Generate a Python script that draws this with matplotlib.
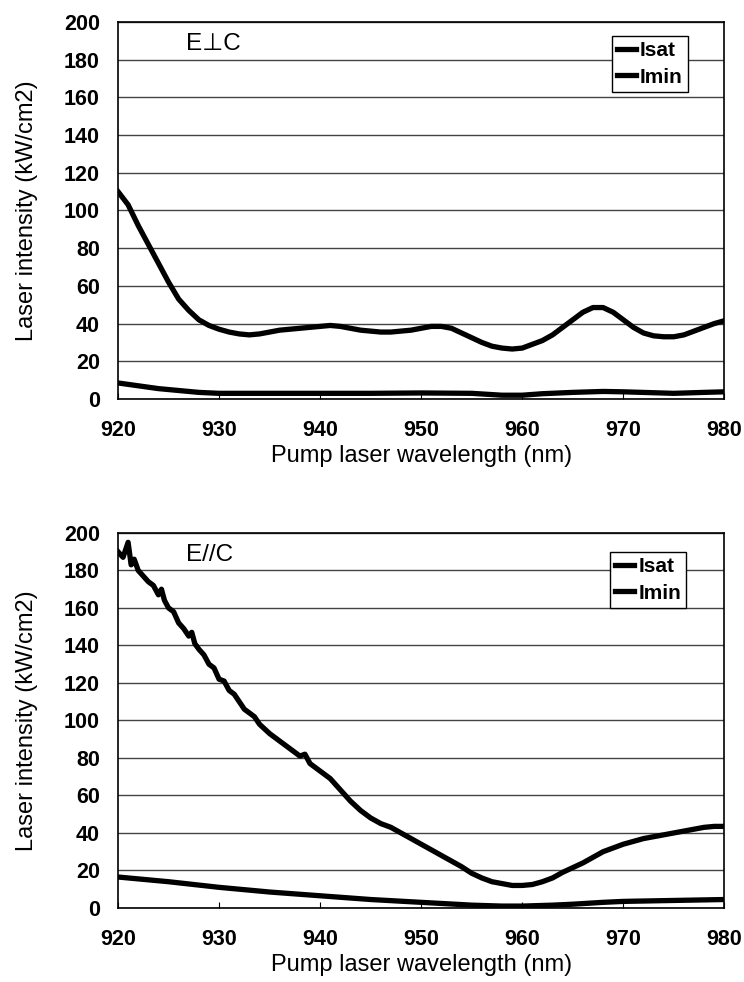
import matplotlib
matplotlib.use("Agg")
import matplotlib.pyplot as plt

plt.rcParams['font.family'] = ['Liberation Sans', 'DejaVu Sans']
plt.rcParams['font.weight'] = 'bold'

# ---- Top panel (E perpendicular C) ----
wl_top = [920, 921, 922, 923, 924, 925, 926, 927, 928, 929, 930, 931, 932, 933, 934, 935,
          936, 937, 938, 939, 940, 941, 942, 943, 944, 945, 946, 947, 948, 949, 950, 951,
          952, 953, 954, 955, 956, 957, 958, 959, 960, 961, 962, 963, 964, 965, 966, 967,
          968, 969, 970, 971, 972, 973, 974, 975, 976, 977, 978, 979, 980]
isat_top = [110, 103, 92, 82, 72, 62, 53, 47, 42, 39, 37, 35.5, 34.5, 34, 34.5, 35.5,
            36.5, 37, 37.5, 38, 38.5, 39, 38.5, 37.5, 36.5, 36, 35.5, 35.5, 36, 36.5, 37.5, 38.5,
            38.5, 37.5, 35, 32.5, 30, 28, 27, 26.5, 27, 29, 31, 34, 38, 42, 46, 48.5,
            48.5, 46, 42, 38, 35, 33.5, 33, 33, 34, 36, 38, 40, 41.5]
wl_top_min = [920, 922, 924, 926, 928, 930, 935, 940, 945, 950, 955, 958, 960, 962, 965,
              968, 970, 975, 978, 980]
imin_top = [8.5, 7, 5.5, 4.5, 3.5, 3, 3, 3, 3, 3.2, 3, 2, 2, 2.8, 3.5, 4, 3.8, 3, 3.5, 3.8]

# ---- Bottom panel (E parallel C) ----
wl_bot = [920, 920.5, 921, 921.3, 921.6, 922, 922.5, 923, 923.5, 924, 924.3, 924.6, 925, 925.5,
          926, 926.5, 927, 927.3, 927.6, 928, 928.5, 929, 929.5, 930, 930.5, 931, 931.5, 932,
          932.5, 933, 933.5, 934, 935, 936, 937, 938, 938.5, 939, 940, 941, 942, 943, 944,
          945, 946, 947, 948, 949, 950, 951, 952, 953, 954, 955, 956, 957, 958, 959, 960,
          961, 962, 963, 964, 965, 966, 967, 968, 969, 970, 971, 972, 973, 974, 975, 976,
          977, 978, 979, 980]
isat_bot = [190, 187, 195, 183, 186, 180, 177, 174, 172, 167, 170, 164, 160, 158,
            152, 149, 145, 147, 141, 138, 135, 130, 128, 122, 121, 116, 114, 110,
            106, 104, 102, 98, 93, 89, 85, 81, 82, 77, 73, 69, 63, 57, 52,
            48, 45, 43, 40, 37, 34, 31, 28, 25, 22, 18.5, 16, 14, 13, 12, 12,
            12.5, 14, 16, 19, 21.5, 24, 27, 30, 32, 34, 35.5, 37, 38, 39, 40, 41,
            42, 43, 43.5, 43.5]
wl_bot_min = [920, 925, 930, 935, 940, 945, 950, 955, 958, 960, 963, 965, 968, 970, 975, 980]
imin_bot = [16.5, 14, 11, 8.5, 6.5, 4.5, 3, 1.5, 1, 1, 1.5, 2, 3, 3.5, 4, 4.5]

x_ticks = [920, 930, 940, 950, 960, 970, 980]
y_ticks = [0, 20, 40, 60, 80, 100, 120, 140, 160, 180, 200]
series_names = ["Isat", "Imin"]
panel_labels = ["E\u22a5C", "E//C"]

fig = plt.figure(figsize=(7.44, 9.82), dpi=100)
ax1 = fig.add_axes([0.1586, 0.5937, 0.815, 0.384])
ax2 = fig.add_axes([0.1586, 0.0754, 0.815, 0.3819])

panels = [
    (ax1, wl_top, isat_top, wl_top_min, imin_top, panel_labels[0], (0.94, 0.962)),
    (ax2, wl_bot, isat_bot, wl_bot_min, imin_bot, panel_labels[1], (0.937, 0.949)),
]

for ax, wx, ys, wm, ym, lab, anchor in panels:
    ax.plot(wx, ys, color='black', lw=3.8, label=series_names[0])
    ax.plot(wm, ym, color='black', lw=3.8, label=series_names[1])
    ax.set_xlim(920, 980)
    ax.set_ylim(0, 200)
    ax.set_xticks(x_ticks)
    ax.set_yticks(y_ticks)
    ax.yaxis.grid(True, color='#444444', lw=1.0)
    ax.set_axisbelow(True)
    for s in ax.spines.values():
        s.set_color('black')
        s.set_linewidth(1.2)
    ax.tick_params(axis='x', direction='in', length=4, labelsize=15.5, pad=15)
    ax.tick_params(axis='y', direction='out', length=0, labelsize=15.5, pad=13)
    ax.set_xlabel("Pump laser wavelength (nm)", fontsize=17, labelpad=3, fontweight='normal')
    ax.set_ylabel("Laser intensity (kW/cm2)", fontsize=17, labelpad=19, fontweight='normal')
    ax.text(0.112, 0.942, lab, transform=ax.transAxes, fontsize=17.5, va='center', ha='left',
            fontweight='normal')
    leg = ax.legend(loc='upper right', bbox_to_anchor=anchor, frameon=True,
                    prop={'size': 15, 'weight': 'bold'},
                    fancybox=False, handlelength=0.9, handletextpad=0.2, borderpad=0.25,
                    labelspacing=0.35, borderaxespad=0.0)
    leg.get_frame().set_edgecolor('black')
    leg.get_frame().set_linewidth(1.0)
    leg.get_frame().set_alpha(1)

fig.savefig("out.png", dpi=100)
